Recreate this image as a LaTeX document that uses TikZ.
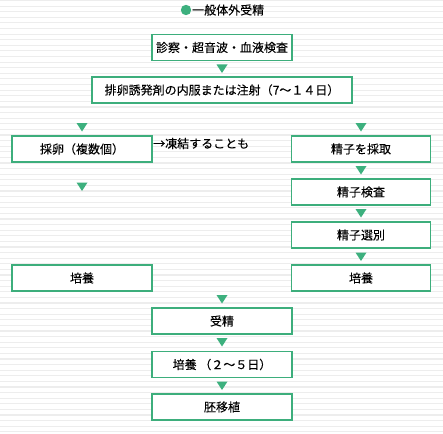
\documentclass[tikz,border=0pt]{standalone}
\usepackage{fontspec}
\setmainfont{Noto Sans CJK JP}
\newfontfamily\jpfont{Noto Sans CJK JP}[FakeBold=0.12]
\definecolor{boxgreen}{HTML}{3DAE7C}
\definecolor{trigreen}{HTML}{3DB07E}
\definecolor{stripe}{HTML}{EDEDED}
\tikzset{
  stepbox/.style={draw=boxgreen, line width=1.3pt, fill=white, minimum height=26pt, inner sep=0pt, font=\jpfont\fontsize{12pt}{14pt}\selectfont, text=black},
  plain/.style={inner sep=0pt, font=\jpfont\fontsize{12pt}{14pt}\selectfont, text=black},
}
\newcommand\downtri[1]{\fill[trigreen] ($(#1)+(-5.5,0)$) -- ($(#1)+(5.5,0)$) -- ($(#1)+(0,8.5)$) -- cycle;}
\usetikzlibrary{calc}
\begin{document}
\begin{tikzpicture}[x=1pt,y=-1pt]
\useasboundingbox (0,0) rectangle (443,433);
\fill[white] (0,0) rectangle (443,433);
\foreach \yy in {0,5.6,...,433} {\fill[stripe] (0,\yy) rectangle (443,\yy+1.1);}
% title
\node[plain, anchor=west] (title) at (192,10) {一般体外受精};
\fill[trigreen] (186,10) circle (5.2);
% boxes
\node[stepbox, minimum width=140pt] (b1) at (222,47.5) {診察・超音波・血液検査};
\node[stepbox, minimum width=260pt] (b2) at (222,90) {排卵誘発剤の内服または注射（7～１４日）};
\node[stepbox, minimum width=140pt] (egg) at (82,149) {採卵（複数個）};
\node[plain, anchor=west] (freeze) at (153,143.5) {→凍結することも};
\node[stepbox, minimum width=139pt] (sp1) at (361,149) {精子を採取};
\node[stepbox, minimum width=139pt] (sp2) at (361,192) {精子検査};
\node[stepbox, minimum width=139pt] (sp3) at (361,235) {精子選別};
\node[stepbox, minimum width=140pt] (cl) at (82,278) {培養};
\node[stepbox, minimum width=139pt] (cr) at (361,278) {培養};
\node[stepbox, minimum width=140pt] (fert) at (222,321) {受精};
\node[stepbox, minimum width=140pt] (cult) at (222,364.5) {培養 （２～５日）};
\node[stepbox, minimum width=140pt] (trans) at (222,407) {胚移植};
% triangles
\coordinate (t1) at (222,64.5);
\coordinate (t2) at (82,123);
\coordinate (t3) at (361,123);
\coordinate (t4) at (82,182.5);
\coordinate (t5) at (361,166);
\coordinate (t6) at (361,209);
\coordinate (t7) at (361,252.5);
\coordinate (t8) at (222,295);
\coordinate (t9) at (222,338);
\coordinate (t10) at (222,381.5);
\foreach \t in {t1,t2,t3,t4,t5,t6,t7,t8,t9,t10} {\downtri{\t}}
\end{tikzpicture}
\end{document}
